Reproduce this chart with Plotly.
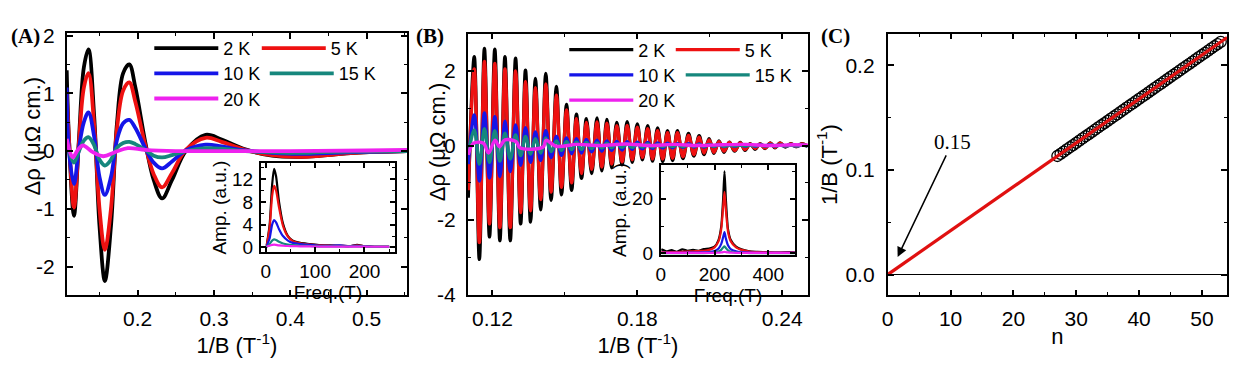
import plotly.graph_objects as go

W, H = 1239, 367

# ---------------- Panel A : low-frequency oscillations ----------------
xA = [0.107, 0.110, 0.1165, 0.123, 0.1295, 0.1355, 0.143, 0.150, 0.157, 0.165, 0.173, 0.181,
      0.189, 0.197, 0.210, 0.221, 0.232, 0.245, 0.263, 0.289, 0.310, 0.341, 0.376, 0.410,
      0.441, 0.484, 0.553]
A_2K = [1.4, 0.2, -1.12, 0.2, 1.45, 1.76, 0.6, -1.3, -2.25, -1.3, 0.5, 1.35,
        1.5, 1.1, 0.15, -0.5, -0.82, -0.5, 0.0, 0.28, 0.2, 0.03, -0.08, -0.1,
        -0.08, -0.03, 0.0]
A_5K = [1.0, 0.2, -0.98, 0.15, 1.1, 1.35, 0.45, -1.0, -1.71, -1.0, 0.4, 1.05,
        1.19, 0.85, 0.1, -0.4, -0.63, -0.38, 0.02, 0.23, 0.16, 0.02, -0.07, -0.1,
        -0.08, -0.03, 0.0]
A_10K = [1.1, 0.0, -0.57, 0.05, 0.5, 0.67, 0.25, -0.45, -0.76, -0.45, 0.2, 0.48,
         0.54, 0.4, 0.05, -0.2, -0.3, -0.18, 0.01, 0.11, 0.08, 0.01, -0.03, -0.05,
         -0.04, -0.02, 0.0]
A_15K = [0.2, 0.0, -0.2, 0.0, 0.18, 0.24, 0.1, -0.15, -0.25, -0.15, 0.06, 0.14,
         0.16, 0.12, 0.02, -0.08, -0.11, -0.07, 0.0, 0.05, 0.04, 0.0, -0.02, -0.03,
         -0.02, -0.01, 0.0]
xA_20K = [0.107, 0.1148, 0.1215, 0.1283, 0.140, 0.155, 0.170, 0.187, 0.21, 0.25, 0.3, 0.4, 0.5, 0.553]
A_20K = [0.21, -0.11, 0.02, 0.1, -0.01, -0.09, -0.02, 0.05, 0.02, 0.0, 0.0, 0.0, 0.01, 0.02]

# Inset A : FFT amplitude
fA = [2, 8, 13, 17, 21, 27, 35, 45, 55, 70, 90, 110, 130, 150, 170, 185, 200, 220, 250]
IA_2K = [0.3, 4, 11, 13.8, 12.5, 8, 4.2, 2, 1.2, 0.8, 0.6, 0.4, 0.35, 0.3, 0.25, 0.45, 0.2, 0.1, 0.1]
IA_5K = [0.3, 3.5, 9, 10.8, 10, 7, 3.8, 1.9, 1.1, 0.7, 0.5, 0.35, 0.3, 0.28, 0.25, 0.35, 0.2, 0.1, 0.1]
IA_10K = [0.2, 1.6, 4, 4.8, 4.4, 3.2, 2, 1.2, 0.8, 0.6, 0.45, 0.3, 0.28, 0.35, 0.22, 0.3, 0.18, 0.1, 0.1]
IA_15K = [0.1, 0.6, 1.2, 1.4, 1.3, 1.0, 0.7, 0.5, 0.4, 0.3, 0.25, 0.2, 0.2, 0.2, 0.18, 0.2, 0.15, 0.1, 0.1]
IA_20K = [0.2, 0.3, 0.45, 0.5, 0.45, 0.35, 0.3, 0.25, 0.22, 0.2, 0.18, 0.15, 0.15, 0.15, 0.14, 0.14, 0.13, 0.12, 0.12]

xB = [0.1100,
      0.1125, 0.1146, 0.1167, 0.1188, 0.1210, 0.1231, 0.1252, 0.1274, 0.1296, 0.1317,
      0.1337, 0.1358, 0.1378, 0.1400, 0.1421, 0.1443, 0.1465, 0.1486, 0.1507, 0.1528,
      0.1548, 0.1569, 0.1589, 0.1611, 0.1633, 0.1653, 0.1674, 0.1694, 0.1715, 0.1737,
      0.1758, 0.1779, 0.1800, 0.1821, 0.1843, 0.1863, 0.1884, 0.1905, 0.1925, 0.1946,
      0.1966, 0.1989, 0.2012, 0.2034, 0.2056, 0.2076, 0.2097, 0.2117, 0.2138, 0.2159,
      0.2181, 0.2203, 0.2226, 0.2246, 0.2267, 0.2288, 0.2308, 0.2329, 0.2350, 0.2370,
      0.2391, 0.2413, 0.2436, 0.2458, 0.2481, 0.2505]
B_2K = [-1.4,
        2.38, -3.05, 2.6, -2.45, 2.58, -2.55, 2.38, -2.55, 2.34, -2.1,
        2.02, -2.05, 1.8, -1.72, 1.93, -1.47, 1.58, -1.32, 1.1, -1.2,
        0.84, -0.88, 0.72, -0.75, 0.74, -0.68, 0.70, -0.6, 0.62, -0.52,
        0.64, -0.45, 0.58, -0.38, 0.53, -0.42, 0.47, -0.43, 0.40, -0.4,
        0.40, -0.35, 0.32, -0.28, 0.26, -0.24, 0.18, -0.21, 0.12, -0.18,
        0.09, -0.15, 0.08, -0.13, 0.05, -0.1, 0.05, -0.08, 0.07, -0.06,
        0.07, -0.04, 0.05, -0.03, 0.05, -0.02]
B_5K = [-1.2,
        2.05, -2.6, 2.25, -2.1, 2.2, -2.2, 2.05, -2.2, 2.0, -1.8,
        1.72, -1.75, 1.55, -1.45, 1.65, -1.25, 1.35, -1.12, 0.95, -1.0,
        0.72, -0.75, 0.62, -0.64, 0.63, -0.58, 0.6, -0.5, 0.53, -0.44,
        0.54, -0.38, 0.49, -0.32, 0.45, -0.36, 0.40, -0.36, 0.34, -0.34,
        0.34, -0.3, 0.27, -0.24, 0.22, -0.2, 0.15, -0.18, 0.10, -0.15,
        0.08, -0.13, 0.07, -0.11, 0.04, -0.08, 0.04, -0.07, 0.06, -0.05,
        0.06, -0.03, 0.04, -0.03, 0.04, -0.02]
B_10K = [-0.5,
         0.82, -0.95, 0.87, -0.87, 0.77, -0.83, 0.65, -0.7, 0.55, -0.53,
         0.48, -0.45, 0.36, -0.4, 0.4, -0.32, 0.24, -0.26, 0.2, -0.22,
         0.18, -0.2, 0.16, -0.17, 0.14, -0.15, 0.12, -0.13, 0.11, -0.12,
         0.10, -0.1, 0.09, -0.09, 0.08, -0.08, 0.07, -0.07, 0.06, -0.06,
         0.05, -0.05, 0.05, -0.04, 0.04, -0.04, 0.03, -0.03, 0.03, -0.03,
         0.02, -0.02, 0.02, -0.02, 0.02, -0.02, 0.02, -0.01, 0.02, -0.01,
         0.01, -0.01, 0.01, -0.01, 0.01, -0.01]
B_15K = [-0.25,
         0.42, -0.5, 0.45, -0.45, 0.4, -0.42, 0.33, -0.36, 0.28, -0.27,
         0.24, -0.23, 0.18, -0.2, 0.2, -0.16, 0.12, -0.13, 0.1, -0.11,
         0.09, -0.1, 0.08, -0.08, 0.07, -0.07, 0.06, -0.06, 0.05, -0.05,
         0.05, -0.05, 0.04, -0.04, 0.04, -0.04, 0.03, -0.03, 0.03, -0.03,
         0.03, -0.03, 0.02, -0.02, 0.02, -0.02, 0.02, -0.02, 0.02, -0.02,
         0.01, -0.01, 0.01, -0.01, 0.01, -0.01, 0.01, -0.01, 0.01, -0.01,
         0.01, -0.01, 0.01, -0.01, 0.01, -0.01]
xB_20K = [0.1100, 0.1122, 0.1163, 0.1184, 0.1211, 0.1229, 0.1252, 0.1299, 0.1314, 0.1410,
          0.1422, 0.1464, 0.1550, 0.1650, 0.1750, 0.1850, 0.1950, 0.2050, 0.2150, 0.2250,
          0.2350, 0.2450, 0.2510]
B_20K = [-0.25, 0.06, 0.06, -0.2, 0.14, -0.03, 0.15, 0.1, -0.06, -0.04,
         0.14, -0.02, 0.03, 0.0, 0.04, 0.0, 0.03, 0.0, 0.02, 0.03,
         0.0, 0.02, 0.01]

# Inset B : FFT amplitude
fB = [2, 20, 40, 60, 80, 100, 120, 140, 160, 180, 200, 215, 225, 232, 237, 242, 250, 260,
      280, 300, 330, 360, 400, 440, 480, 500]
IB_2K = [1.5, 0.8, 1.2, 0.6, 1.5, 1.0, 1.3, 1.0, 1.6, 1.8, 2.5, 5, 10, 20, 30, 20, 9, 5,
         2.5, 1.5, 0.8, 0.6, 0.4, 0.3, 0.5, 0.3]
IB_5K = [0.5, 0.4, 0.5, 0.5, 0.6, 0.7, 0.8, 0.9, 1.0, 1.3, 2.2, 4.5, 9, 17, 22.5, 16, 8, 4.5,
         2.2, 1.3, 0.7, 0.5, 0.4, 0.3, 0.3, 0.3]
IB_10K = [0.2, 0.2, 0.2, 0.2, 0.25, 0.3, 0.3, 0.35, 0.4, 0.5, 0.9, 1.8, 3.5, 6, 7.8, 5.5, 3, 1.6,
          0.8, 0.5, 0.3, 0.25, 0.2, 0.2, 0.2, 0.2]
IB_15K = [0.1, 0.1, 0.1, 0.1, 0.1, 0.12, 0.12, 0.15, 0.15, 0.2, 0.35, 0.7, 1.3, 2.2, 2.6, 2.0, 1.1, 0.6,
          0.3, 0.2, 0.15, 0.1, 0.1, 0.1, 0.1, 0.1]
IB_20K = [0.2, 0.2, 0.2, 0.2, 0.2, 0.2, 0.2, 0.2, 0.2, 0.2, 0.25, 0.3, 0.4, 0.5, 0.6, 0.5, 0.4, 0.3,
          0.25, 0.2, 0.2, 0.2, 0.2, 0.2, 0.2, 0.2]

# ---------------- Panel C : Landau level fan ----------------
n_idx = [27, 27.5, 28, 28.5, 29, 29.5, 30, 30.5, 31, 31.5, 32, 32.5, 33, 33.5, 34, 34.5,
         35, 35.5, 36, 36.5, 37, 37.5, 38, 38.5, 39, 39.5, 40, 40.5, 41, 41.5, 42, 42.5,
         43, 43.5, 44, 44.5, 45, 45.5, 46, 46.5, 47, 47.5, 48, 48.5, 49, 49.5, 50, 50.5,
         51, 51.5, 52, 52.5, 53]
invB = [0.1134, 0.1155, 0.1176, 0.1197, 0.1218, 0.1239, 0.1260, 0.1281, 0.1302, 0.1323,
        0.1344, 0.1365, 0.1386, 0.1407, 0.1428, 0.1449, 0.1470, 0.1491, 0.1512, 0.1533,
        0.1554, 0.1575, 0.1596, 0.1617, 0.1638, 0.1659, 0.1680, 0.1701, 0.1722, 0.1743,
        0.1764, 0.1785, 0.1806, 0.1827, 0.1848, 0.1869, 0.1890, 0.1911, 0.1932, 0.1953,
        0.1974, 0.1995, 0.2016, 0.2037, 0.2058, 0.2079, 0.2100, 0.2121, 0.2142, 0.2163,
        0.2184, 0.2205, 0.2226]
n_fit = [0, 54]
invB_fit = [0.0, 0.2268]

labels = ["2 K", "5 K", "10 K", "15 K", "20 K"]
colors = ["#000000", "#ee1111", "#1515e8", "#16877d", "#ee22ee"]

FONT = "Liberation Sans"
SERIF = "Liberation Serif"
TICK = 21
INSET = 19

fig = go.Figure()

# one legend box per entry so that every key sits where the reference puts it
A_leg = ["legend", "legend2", "legend3", "legend4", "legend5"]
B_leg = ["legend6", "legend7", "legend8", "legend9", "legend10"]

# Panel A main
A_series = [(xA, A_2K), (xA, A_5K), (xA, A_10K), (xA, A_15K), (xA_20K, A_20K)]
for (xs, ys), lab, col, lg in zip(A_series, labels, colors, A_leg):
    fig.add_trace(go.Scatter(x=xs, y=ys, mode="lines", name=lab, legend=lg,
                             line=dict(color=col, width=3.8, shape="spline", smoothing=1.0),
                             xaxis="x", yaxis="y"))
# Panel A inset
for ys, col in zip([IA_2K, IA_5K, IA_10K, IA_15K, IA_20K], colors):
    fig.add_trace(go.Scatter(x=fA, y=ys, mode="lines", showlegend=False,
                             line=dict(color=col, width=2.2, shape="spline", smoothing=0.7),
                             xaxis="x2", yaxis="y2"))
# Panel B main
B_series = [(xB, B_2K), (xB, B_5K), (xB, B_10K), (xB, B_15K), (xB_20K, B_20K)]
for (xs, ys), lab, col, lg in zip(B_series, labels, colors, B_leg):
    fig.add_trace(go.Scatter(x=xs, y=ys, mode="lines", name=lab, legend=lg,
                             line=dict(color=col, width=3.4, shape="spline", smoothing=1.0),
                             xaxis="x3", yaxis="y3"))
# Panel B inset
for ys, col in zip([IB_2K, IB_5K, IB_10K, IB_15K, IB_20K], colors):
    fig.add_trace(go.Scatter(x=fB, y=ys, mode="lines", showlegend=False,
                             line=dict(color=col, width=2.2, shape="spline", smoothing=0.6),
                             xaxis="x4", yaxis="y4"))
# Panel C
fig.add_trace(go.Scatter(x=n_idx, y=invB, mode="markers", showlegend=False,
                         marker=dict(symbol="circle-open", size=11, color="black",
                                     line=dict(width=1.3, color="black")),
                         xaxis="x5", yaxis="y5"))
fig.add_trace(go.Scatter(x=n_fit, y=invB_fit, mode="lines", showlegend=False,
                         line=dict(color="#e01010", width=3.2),
                         xaxis="x5", yaxis="y5"))


def dom_x(a, b):
    return [a / W, b / W]


def dom_y(top, bottom):
    return [1 - bottom / H, 1 - top / H]


def ax(size=TICK, ticklen=6, minor=None, standoff=5, **kw):
    d = dict(showline=True, linecolor="black", linewidth=1.8, mirror="ticks",
             ticks="inside", ticklen=ticklen, tickwidth=1.5, tickcolor="black",
             showgrid=False, zeroline=False, ticklabelstandoff=standoff,
             tickfont=dict(family=FONT, size=size, color="black"),
             title_font=dict(family=FONT, size=size + 1, color="black"))
    if minor is not None:
        d["minor"] = dict(dtick=minor, ticks="inside", ticklen=ticklen * 0.6,
                          tickwidth=1.3, tickcolor="black", showgrid=False)
    d.update(kw)
    return d


layout = dict(
    width=W, height=H, margin=dict(l=0, r=0, t=0, b=0),
    paper_bgcolor="white", plot_bgcolor="white",
    font=dict(family=FONT, color="black"),
    # Panel A
    xaxis=ax(domain=dom_x(61, 403), anchor="y", range=[0.107, 0.553], tick0=0.2, dtick=0.1,
             minor=0.05, standoff=3, title=dict(text="1/B (T<sup>-1</sup>)", standoff=0)),
    yaxis=ax(domain=dom_y(25, 303), anchor="x", range=[-2.5, 2.05], standoff=6,
             tickvals=[-2, -1, 0, 1, 2], ticktext=["-2", "-1", "0", "1", "2"], minor=0.5),
    # Inset A
    xaxis2=ax(size=INSET, ticklen=5, domain=dom_x(256, 391), anchor="y2", range=[-10, 262],
              dtick=100, tick0=0, minor=50, standoff=1,
              title=dict(text="Freq.(T)", standoff=0, font=dict(family=FONT, size=INSET))),
    yaxis2=ax(size=INSET, ticklen=5, domain=dom_y(163, 257), anchor="x2", range=[-0.8, 14.8],
              dtick=4, tick0=0, minor=2, standoff=2,
              title=dict(text="Amp. (a.u.)", standoff=0, font=dict(family=FONT, size=INSET))),
    # Panel B
    xaxis3=ax(domain=dom_x(464, 806), anchor="y3", range=[0.1098, 0.2507], tick0=0.12,
              dtick=0.06, minor=0.03, standoff=3,
              title=dict(text="1/B (T<sup>-1</sup>)", standoff=0)),
    yaxis3=ax(domain=dom_y(26, 303), anchor="x3", range=[-4.02, 3.0], standoff=6,
              tickvals=[-4, -2, 0, 2], ticktext=["-4", "-2", "0", "2"], minor=1),
    # Inset B
    xaxis4=ax(size=INSET, ticklen=5, domain=dom_x(658, 793), anchor="y4", range=[0, 500],
              dtick=200, tick0=0, minor=100, standoff=1,
              title=dict(text="Freq.(T)", standoff=0, font=dict(family=FONT, size=INSET))),
    yaxis4=ax(size=INSET, ticklen=5, domain=dom_y(165, 260), anchor="x4", range=[-0.5, 32.3],
              dtick=20, tick0=0, minor=10, standoff=2,
              title=dict(text="Amp. (a.u.)", standoff=0, font=dict(family=FONT, size=INSET))),
    # Panel C
    xaxis5=ax(domain=dom_x(886, 1227), anchor="y5", range=[0, 54], dtick=10, tick0=0,
              minor=5, standoff=3, title=dict(text="n", standoff=0)),
    yaxis5=ax(domain=dom_y(26, 303), anchor="x5", range=[-0.02, 0.2305], standoff=7,
              tickvals=[0, 0.1, 0.2], ticktext=["0.0", "0.1", "0.2"], minor=0.05,
              zeroline=True, zerolinecolor="black", zerolinewidth=1.2,
              title=dict(text="1/B (T<sup>-1</sup>)", standoff=2)),
)


def leg(xp, yp):
    return dict(orientation="h", x=xp / W, y=1 - yp / H, xanchor="left", yanchor="middle",
                bgcolor="rgba(0,0,0,0)", borderwidth=0, itemwidth=64,
                font=dict(family=FONT, size=18, color="black"),
                itemclick=False, itemdoubleclick=False)


# positions (left edge, row centre) in pixels of each legend key
legend_pos = {
    "legend": (144, 41.7), "legend2": (252, 41.7),
    "legend3": (144, 68.3), "legend4": (260, 68.3),
    "legend5": (144, 95),
    "legend6": (561, 43.3), "legend7": (668, 43.3),
    "legend8": (561, 70), "legend9": (678, 70),
    "legend10": (561, 96.7),
}
for k, (xp, yp) in legend_pos.items():
    layout[k] = leg(xp, yp)

fig.update_layout(**layout)

ann = []
# y-axis titles for the two oscillation panels
ann.append(dict(text="Δρ (μΩ cm.)", xref="paper", yref="paper", x=27 / W, y=1 - 134 / H,
                xanchor="center", yanchor="middle",
                textangle=-90, showarrow=False, font=dict(family=FONT, size=22, color="black")))
ann.append(dict(text="Δρ (μΩ cm.)", xref="paper", yref="paper", x=433 / W, y=1 - 140 / H,
                xanchor="center", yanchor="middle",
                textangle=-90, showarrow=False, font=dict(family=FONT, size=22, color="black")))
# Panel labels
for t, px in [("(A)", 3), ("(B)", 410), ("(C)", 817)]:
    ann.append(dict(text="<b>%s</b>" % t, xref="paper", yref="paper", x=px / W, y=1 - 29 / H,
                    xanchor="left", yanchor="middle", showarrow=False,
                    font=dict(family=SERIF, size=21, color="black")))
# Phase annotation
ann.append(dict(text="0.15", xref="x5", yref="y5", x=1.58, y=0.0169, ax=55, ay=-115,
                showarrow=True, arrowhead=2, arrowsize=1.3, arrowwidth=1.5, arrowcolor="black",
                font=dict(family=SERIF, size=21, color="black")))
fig.update_layout(annotations=ann)

fig.write_html("out.html", config={"displayModeBar": False},
               post_script="document.body.style.margin='0px';")
